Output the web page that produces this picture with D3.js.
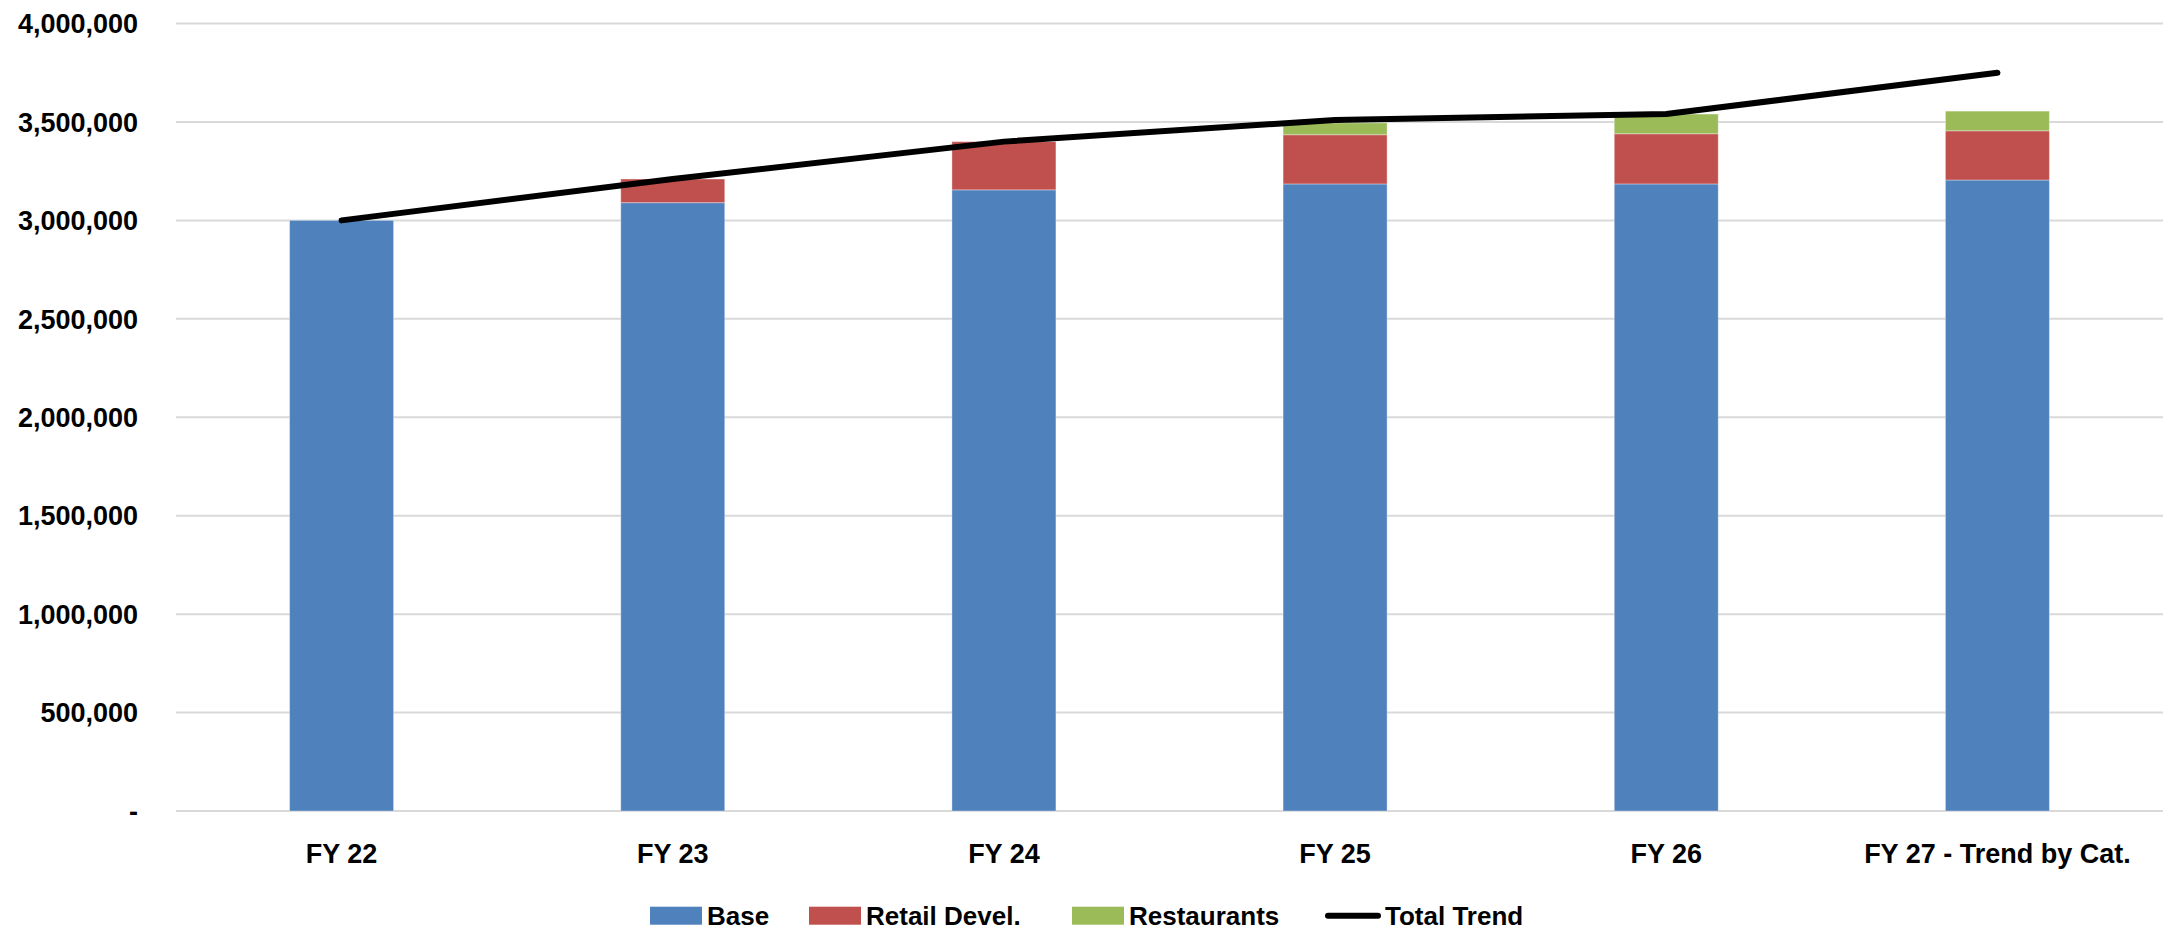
<!DOCTYPE html>
<html>
<head>
<meta charset="utf-8">
<script src="https://cdn.jsdelivr.net/npm/d3@7"></script>
<style>
  html, body { margin: 0; padding: 0; background: #fff; }
  svg text { font-family: "Liberation Sans", Arial, sans-serif; font-weight: bold; fill: #000; }
</style>
</head>
<body>
<svg id="chart" width="2177" height="936"></svg>
<script>
// Fiscal-year categories
const categories = ["FY 22", "FY 23", "FY 24", "FY 25", "FY 26", "FY 27 - Trend by Cat."];

// Stacked components
const base        = [3000000, 3090000, 3155000, 3185000, 3185000, 3205000];
const retailDevel = [0, 120000, 245000, 250000, 255000, 250000];
const restaurants = [0, 0, 0, 60000, 100000, 100000];

// Overall trend line
const totalTrend  = [3000000, 3210000, 3400000, 3510000, 3540000, 3750000];

// Value axis ticks
const yTicks = [0, 500000, 1000000, 1500000, 2000000, 2500000, 3000000, 3500000, 4000000];

const seriesNames  = ["Base", "Retail Devel.", "Restaurants"];
const seriesColors = ["#4F81BD", "#C0504D", "#9BBB59"];

const svg = d3.select("#chart");

const plot = { left: 176, right: 2163, top: 23.5, bottom: 811 };

const x = d3.scaleBand()
  .domain(categories)
  .range([plot.left, plot.right])
  .paddingInner(0.686)
  .paddingOuter(0.343);

const y = d3.scaleLinear()
  .domain([0, 4000000])
  .range([plot.bottom, plot.top]);

// Horizontal gridlines
svg.append("g")
  .selectAll("line")
  .data(yTicks)
  .join("line")
  .attr("x1", plot.left)
  .attr("x2", plot.right)
  .attr("y1", d => y(d))
  .attr("y2", d => y(d))
  .attr("stroke", "#D9D9D9")
  .attr("stroke-width", 2);

// Value axis labels
const fmt = d3.format(",");
svg.append("g")
  .selectAll("text")
  .data(yTicks)
  .join("text")
  .attr("x", 138)
  .attr("y", d => y(d))
  .attr("dy", "0.36em")
  .attr("text-anchor", "end")
  .style("font-size", "27px")
  .text(d => d === 0 ? "-" : fmt(d));

// Stacked bars
const rows = categories.map((c, i) => ({
  cat: c,
  "Base": base[i],
  "Retail Devel.": retailDevel[i],
  "Restaurants": restaurants[i]
}));
const stacked = d3.stack().keys(seriesNames)(rows);

svg.append("g")
  .selectAll("g")
  .data(stacked)
  .join("g")
  .attr("fill", (d, i) => seriesColors[i])
  .selectAll("rect")
  .data(d => d.filter(p => p[1] - p[0] > 0))
  .join("rect")
  .attr("x", d => x(d.data.cat))
  .attr("width", x.bandwidth())
  .attr("y", d => y(d[1]))
  .attr("height", d => y(d[0]) - y(d[1]))
  .attr("stroke", "rgba(255,255,255,0.35)")
  .attr("stroke-width", 1);

// Category labels
svg.append("g")
  .selectAll("text")
  .data(categories)
  .join("text")
  .attr("x", d => x(d) + x.bandwidth() / 2)
  .attr("y", 862.5)
  .attr("text-anchor", "middle")
  .style("font-size", "27px")
  .text(d => d);

// Total trend line
const line = d3.line()
  .x((d, i) => x(categories[i]) + x.bandwidth() / 2)
  .y(d => y(d));

svg.append("path")
  .datum(totalTrend)
  .attr("d", line)
  .attr("fill", "none")
  .attr("stroke", "#000")
  .attr("stroke-width", 6)
  .attr("stroke-linejoin", "round")
  .attr("stroke-linecap", "round");

// Legend
const legend = svg.append("g");
const swatchX = [650, 809, 1072];
seriesNames.forEach((name, i) => {
  legend.append("rect")
    .attr("x", swatchX[i]).attr("y", 906.7)
    .attr("width", 52).attr("height", 18)
    .attr("fill", seriesColors[i]);
  legend.append("text")
    .attr("x", swatchX[i] + 57).attr("y", 924.7)
    .style("font-size", "26px")
    .text(name);
});
legend.append("line")
  .attr("x1", 1328).attr("x2", 1378)
  .attr("y1", 915.7).attr("y2", 915.7)
  .attr("stroke", "#000")
  .attr("stroke-width", 6)
  .attr("stroke-linecap", "round");
legend.append("text")
  .attr("x", 1385).attr("y", 924.7)
  .style("font-size", "26px")
  .text("Total Trend");
</script>
</body>
</html>
